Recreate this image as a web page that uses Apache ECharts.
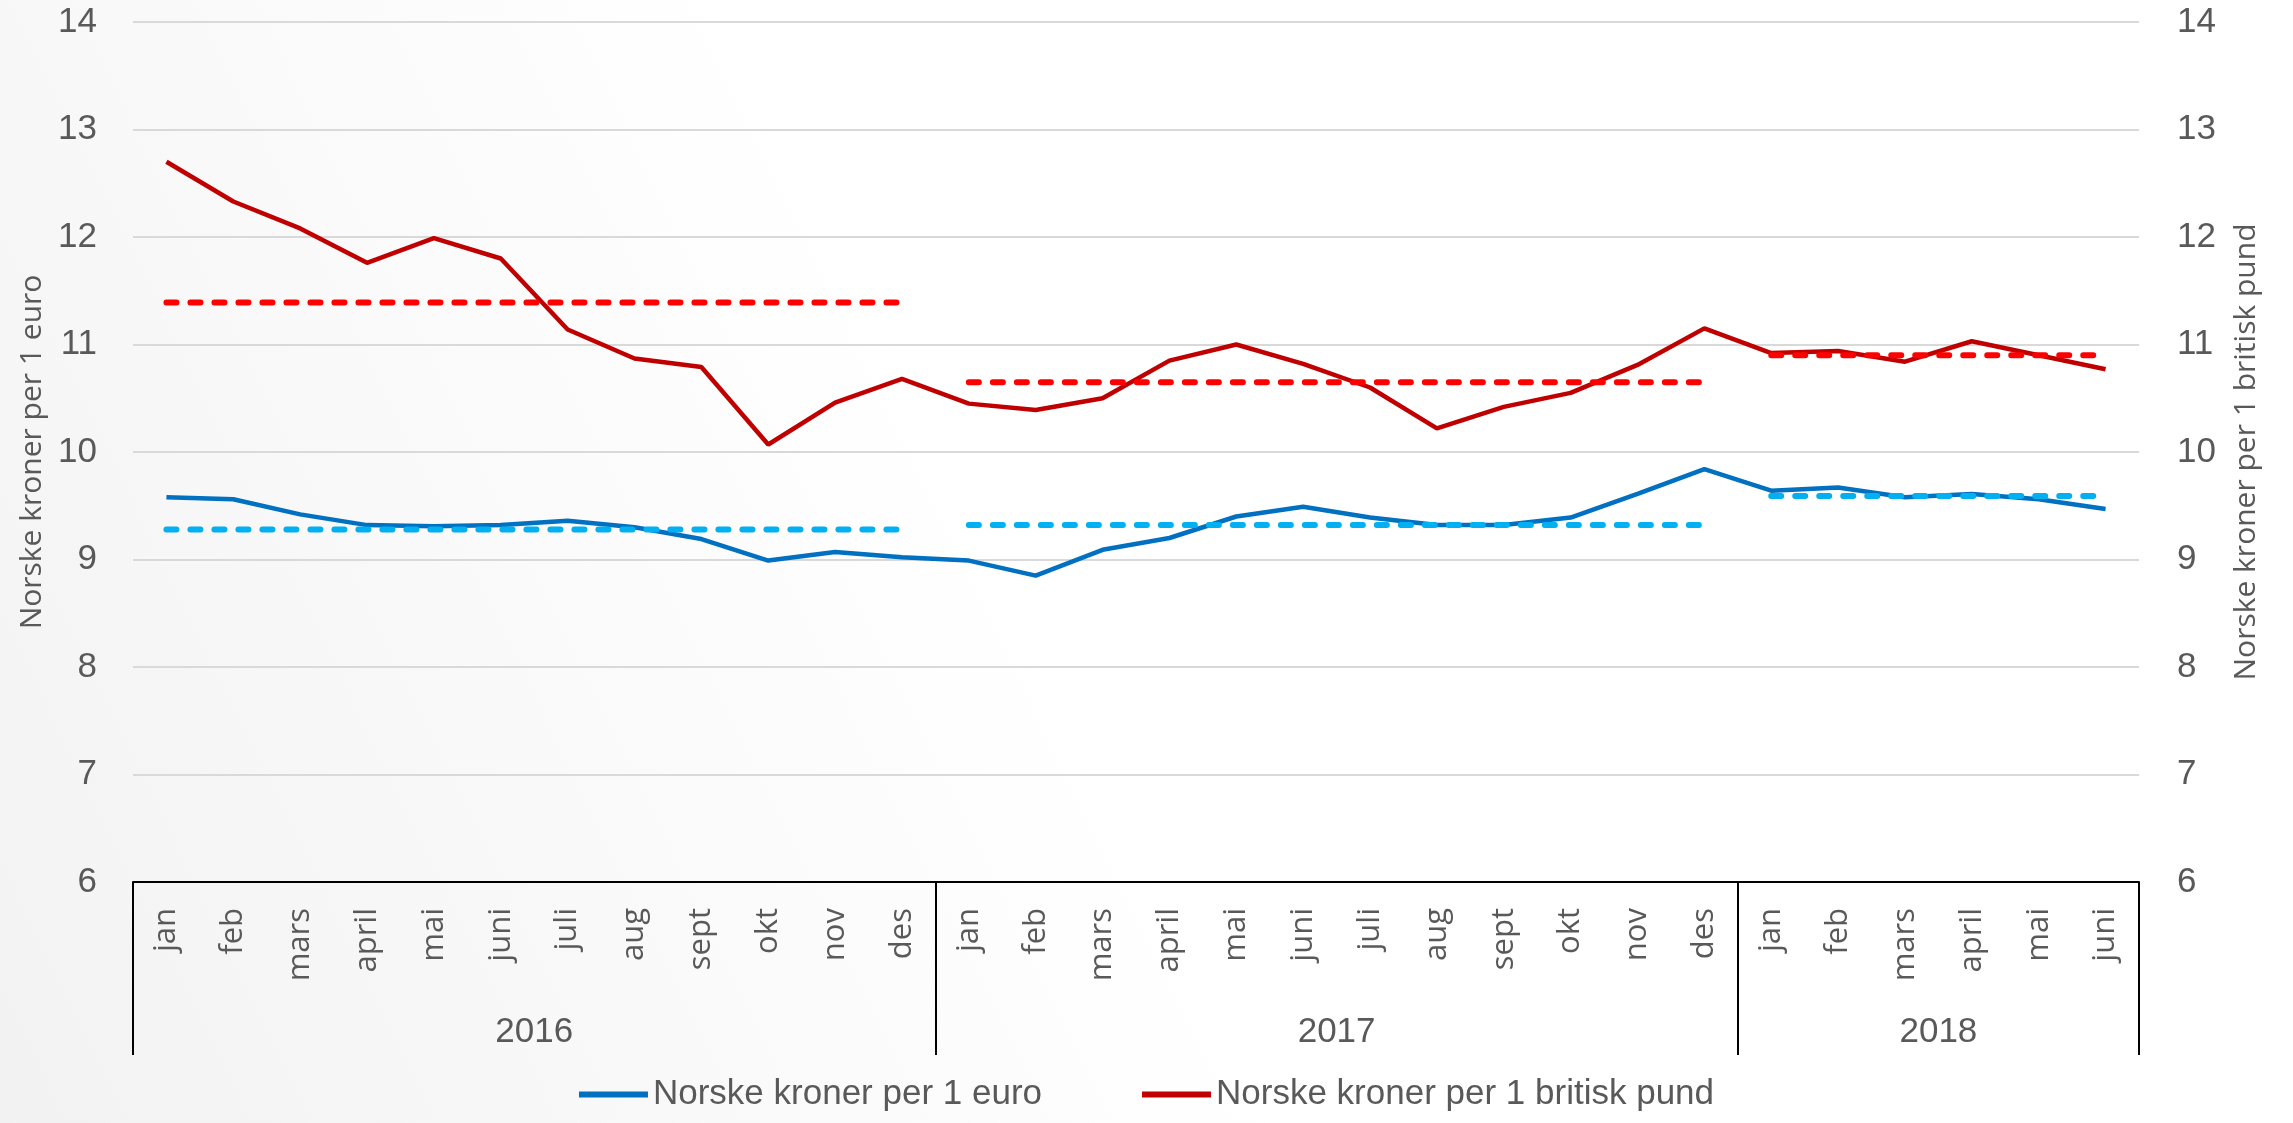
<!DOCTYPE html>
<html>
<head>
<meta charset="utf-8">
<script src="https://cdn.jsdelivr.net/npm/echarts@6/dist/echarts.min.js"></script>
<style>
html, body { margin: 0; padding: 0; }
#chart { width: 2293px; height: 1123px; }
</style>
</head>
<body>
<div id="chart"></div>
<script>
// months, grouped by year
var months = ['jan','feb','mars','april','mai','juni','juli','aug','sept','okt','nov','des',
              'jan','feb','mars','april','mai','juni','juli','aug','sept','okt','nov','des',
              'jan','feb','mars','april','mai','juni'];
var years = ['2016', '2017', '2018'];
var yearStart = [0, 12, 24];
var yearLength = [12, 12, 6];

// NOK per 1 EUR
var eur = [9.58, 9.56, 9.42, 9.32, 9.31, 9.32, 9.36, 9.30, 9.19, 8.99, 9.07, 9.02,
           8.99, 8.85, 9.09, 9.20, 9.40, 9.49, 9.39, 9.32, 9.32, 9.39, 9.61, 9.84,
           9.64, 9.67, 9.58, 9.61, 9.56, 9.47];
// NOK per 1 GBP
var gbp = [12.70, 12.33, 12.08, 11.76, 11.99, 11.80, 11.14, 10.87, 10.79, 10.07, 10.46, 10.68,
           10.45, 10.39, 10.50, 10.85, 11.00, 10.82, 10.60, 10.22, 10.42, 10.55, 10.81, 11.15,
           10.92, 10.94, 10.84, 11.03, 10.90, 10.77];
// yearly averages (dashed)
var eurAvg = [9.28, 9.32, 9.59];
var gbpAvg = [11.39, 10.65, 10.90];

var numFont = '"Liberation Sans Narrow", "Liberation Sans", sans-serif';
var wideFont = '"Open Sans", "DejaVu Sans", sans-serif';
var textColor = '#595959';

function avgData(avgs, y) {
    var arr = [];
    for (var i = 0; i < months.length; i++) {
        if (i >= yearStart[y] && i < yearStart[y] + yearLength[y]) arr.push(avgs[y]);
        else arr.push(null);
    }
    return arr;
}

var series = [
    {
        name: 'Norske kroner per 1 euro',
        type: 'line',
        data: eur,
        symbol: 'none',
        lineStyle: { color: '#0070C0', width: 4.5 },
        itemStyle: { color: '#0070C0' },
        z: 3
    },
    {
        name: 'Norske kroner per 1 britisk pund',
        type: 'line',
        yAxisIndex: 1,
        data: gbp,
        symbol: 'none',
        lineStyle: { color: '#C00000', width: 4.5 },
        itemStyle: { color: '#C00000' },
        z: 3
    }
];
for (var y = 0; y < years.length; y++) {
    series.push({
        name: 'eur snitt ' + years[y],
        type: 'line',
        data: avgData(eurAvg, y),
        symbol: 'none',
        lineStyle: { color: '#00B0F0', width: 6, type: [10, 14], cap: 'round' },
        z: 4
    });
    series.push({
        name: 'gbp snitt ' + years[y],
        type: 'line',
        yAxisIndex: 1,
        data: avgData(gbpAvg, y),
        symbol: 'none',
        lineStyle: { color: '#FF0000', width: 6, type: [10, 14], cap: 'round' },
        z: 4
    });
}

var yearCenters = [];
var yearBounds = [0];
for (var k = 0; k < years.length; k++) {
    yearCenters.push(yearStart[k] + yearLength[k] / 2);
    yearBounds.push(yearStart[k] + yearLength[k]);
}

var chart = echarts.init(document.getElementById('chart'));
chart.setOption({
    animation: false,
    backgroundColor: {
        type: 'linear', x: 0, y: 1, x2: 1, y2: 0,
        colorStops: [{ offset: 0, color: '#f2f2f2' }, { offset: 0.45, color: '#ffffff' }, { offset: 1, color: '#ffffff' }]
    },
    legend: {
        data: [
            { name: 'Norske kroner per 1 euro', icon: 'rect' },
            { name: 'Norske kroner per 1 britisk pund', icon: 'rect' }
        ],
        bottom: 6,
        left: 'center',
        itemWidth: 69,
        itemHeight: 6,
        itemGap: 100,
        textStyle: { fontFamily: numFont, fontSize: 35, color: textColor }
    },
    grid: { left: 133, right: 154, top: 22, bottom: 241 },
    xAxis: [
        {
            type: 'category',
            data: months,
            boundaryGap: true,
            axisLine: { lineStyle: { color: '#000000', width: 2 } },
            axisTick: { show: false },
            axisLabel: {
                rotate: 90, interval: 0, margin: 26,
                fontFamily: wideFont, fontSize: 31, color: textColor
            }
        },
        {
            type: 'value',
            position: 'bottom',
            min: 0, max: 30, interval: 1,
            axisLine: { show: false },
            splitLine: { show: false },
            axisTick: {
                show: true, customValues: yearBounds, length: 173,
                lineStyle: { color: '#000000', width: 2 }
            },
            axisLabel: {
                customValues: yearCenters, margin: 133,
                fontFamily: numFont, fontSize: 35, color: textColor,
                formatter: function (v) {
                    for (var i = 0; i < yearCenters.length; i++) {
                        if (Math.abs(yearCenters[i] - v) < 0.01) return years[i];
                    }
                    return '';
                }
            }
        }
    ],
    yAxis: [
        {
            type: 'value', min: 6, max: 14, interval: 1,
            name: 'Norske kroner per 1 euro',
            nameLocation: 'middle', nameRotate: 90, nameGap: 82,
            nameTextStyle: { fontFamily: wideFont, fontSize: 30, color: textColor },
            axisLine: { show: false },
            axisTick: { show: false },
            splitLine: { lineStyle: { color: '#D9D9D9', width: 2 } },
            axisLabel: { margin: 36, fontFamily: numFont, fontSize: 35, color: textColor }
        },
        {
            type: 'value', min: 6, max: 14, interval: 1, position: 'right',
            name: 'Norske kroner per 1 britisk pund',
            nameLocation: 'middle', nameRotate: 90, nameGap: 92,
            nameTextStyle: { fontFamily: wideFont, fontSize: 30, color: textColor },
            axisLine: { show: false },
            axisTick: { show: false },
            splitLine: { show: false },
            axisLabel: { margin: 38, fontFamily: numFont, fontSize: 35, color: textColor }
        }
    ],
    series: series
});
</script>
</body>
</html>
